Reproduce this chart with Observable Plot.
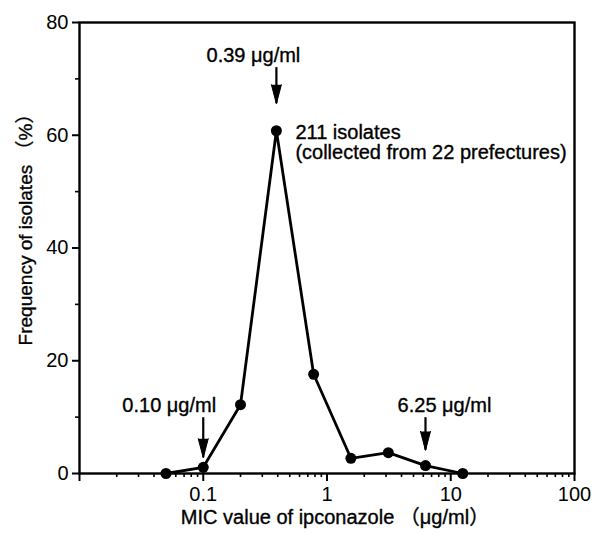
<!DOCTYPE html>
<html><head><meta charset="utf-8">
<script src="https://cdn.jsdelivr.net/npm/d3@7"></script>
<script src="https://cdn.jsdelivr.net/npm/@observablehq/plot@0.6"></script>
<style>
body{margin:0;background:#fff;}
svg{font-family:"Liberation Sans","Noto Sans CJK JP",Arial,sans-serif;}
</style></head>
<body><div id="chart"></div>
<script>
const mic = [0.05, 0.1, 0.2, 0.39, 0.78, 1.56, 3.13, 6.25, 12.5];
const freq = [0, 1.1, 12.2, 60.8, 17.6, 2.7, 3.7, 1.4, 0];

const xMajor = [0.01, 0.1, 1, 10, 100];
const xMajorLabels = ["", "0.1", "1", "10", "100"];
const xMinor = [];
for (const d of [0.01, 0.1, 1, 10]) for (let k = 2; k <= 9; k++) xMinor.push(+(d * k).toPrecision(3));
const yMajor = [0, 20, 40, 60, 80];
const yMinor = [10, 30, 50, 70];

const arrowLabels = ["0.10 \u03bcg/ml", "0.39 \u03bcg/ml", "6.25 \u03bcg/ml"];
const arrowX = [0.1, 0.39, 6.25];
const arrowTop = [9.9, 72.0, 9.9];
const arrowBottom = [2.8, 65.6, 4.1];
const labelY = [12.1, 74.1, 12.1];
const labelDx = [-34, -23, 19];

const noteLines = ["211 isolates", "(collected from 22 prefectures)"];
const noteX = 0.39;
const noteY = [60.5, 56.9];

const xTitle = "MIC value of ipconazole \uff08\u03bcg/ml\uff09";
const yTitle = "Frequency of isolates \uff08%\uff09";

const pts = mic.map((m, i) => ({x: m, y: freq[i]}));
const arrows = arrowX.map((x, i) => ({x, y1: arrowTop[i], y2: arrowBottom[i], label: arrowLabels[i], ly: labelY[i], dx: labelDx[i]}));

const fs = 20;
const ts = {fill: "#000", stroke: "#000", strokeWidth: 0.35};
const chart = Plot.plot({
  width: 596, height: 533,
  marginLeft: 79, marginRight: 22, marginTop: 22, marginBottom: 60,
  style: {fontFamily: '"Liberation Sans","Noto Sans CJK JP",Arial,sans-serif', color: "#000", background: "#fff"},
  x: {type: "log", domain: [0.01, 100], axis: null},
  y: {domain: [0, 80], axis: null},
  marks: [
    Plot.axisX({ticks: xMinor, tickSize: 4, tickFormat: () => "", strokeWidth: 1.6, label: null}),
    Plot.axisX({ticks: xMajor, tickSize: 8, tickPadding: 5, tickFormat: d => xMajorLabels[xMajor.indexOf(d)], fontSize: fs, strokeWidth: 2, label: null}),
    Plot.axisY({ticks: yMinor, tickSize: 4, tickFormat: () => "", strokeWidth: 1.6, label: null}),
    Plot.axisY({ticks: yMajor, tickSize: 7, tickPadding: 4, fontSize: fs, strokeWidth: 2, label: null}),
    Plot.frame({stroke: "#000", strokeWidth: 2.4}),
    Plot.line(pts, {x: "x", y: "y", stroke: "#000", strokeWidth: 2.8}),
    Plot.dot(pts, {x: "x", y: "y", r: 5.5, fill: "#000", stroke: "none"}),
    Plot.ruleX(arrows, {x: "x", y1: "y1", y2: "y2", stroke: "#000", strokeWidth: 2.2}),
    Plot.vector(arrows, {x: "x", y: "y2", rotate: 180, length: 19, r: 5, shape: "spike", anchor: "end", fill: "#000", stroke: "#000", strokeWidth: 1}),
    ...arrows.map(a => Plot.text([a], {x: "x", y: "ly", text: "label", dx: a.dx, fontSize: fs, ...ts})),
    Plot.text(noteLines, {x: () => noteX, y: (d, i) => noteY[i], text: d => d, textAnchor: "start", dx: 19, fontSize: fs, ...ts}),
    Plot.text([xTitle], {frameAnchor: "bottom", textAnchor: "middle", dx: 8, dy: 50, fontSize: fs, ...ts}),
    Plot.text([yTitle], {frameAnchor: "left", textAnchor: "middle", rotate: -90, dx: -54, dy: -23, fontSize: 19, ...ts})
  ]
});
document.getElementById("chart").appendChild(chart);
</script></body></html>
